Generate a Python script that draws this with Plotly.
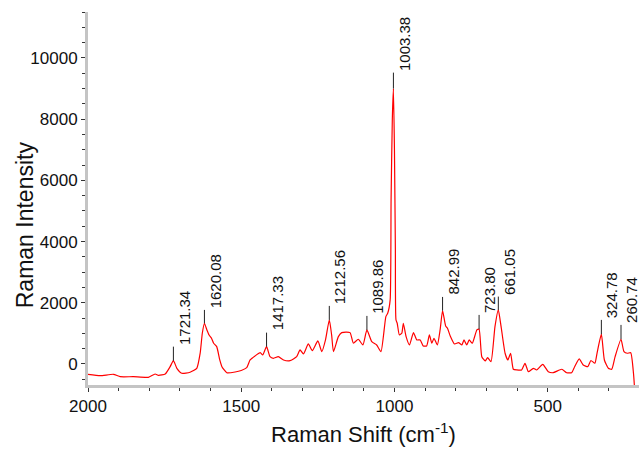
import plotly.graph_objects as go

# Spectrum: Raman shift (cm-1) and intensity
shift = [2000, 1960, 1917, 1895, 1852, 1803, 1781, 1770, 1748, 1732, 1721.34, 1710, 1694, 1667,
         1645, 1634, 1627, 1620.08, 1612, 1605, 1597, 1590, 1580, 1570, 1563, 1547, 1520, 1500,
         1482, 1471, 1455, 1438, 1430, 1417.33, 1406, 1395, 1379, 1362, 1341, 1319, 1308, 1297,
         1281, 1268, 1250, 1237, 1225, 1212.56, 1205, 1199, 1183, 1172, 1145, 1134, 1118, 1103,
         1089.86, 1074, 1058, 1044, 1028, 1022, 1014, 1011, 1007, 1003.38, 1000, 997, 995, 991,
         984, 976, 971, 962, 951, 938, 927, 916, 906, 895, 886, 878, 871, 860, 851, 842.99, 833,
         827, 818, 804, 791, 780, 773, 764, 756, 746, 731, 723.80, 715, 704, 696, 685, 672,
         661.05, 652, 639, 630, 621, 612, 601, 585, 574, 563, 547, 536, 516, 498, 482, 454, 438,
         422, 412, 397, 384, 369, 359, 346, 339, 324.78, 315, 302, 291, 280, 260.74, 251, 240,
         229, 220, 212]
intensity = [-337, -383, -337, -415, -415, -435, -327, -370, -327, -88, 108, -141, -304, -271,
             -141, 350, 1004, 1331, 1112, 949, 841, 677, 566, 131, -88, -285, -262, -213,
             -121, 131, 262, 370, 294, 566, 239, 186, 239, 131, 108, 239, 458, 327,
             654, 435, 752, 402, 785, 1440, 949, 402, 893, 1024, 1024, 677, 808, 621,
             1112, 729, 621, 402, 1547, 1658, 2093, 5360, 7980, 8996, 7000, 3730, 1440, 1331,
             949, 1004, 1331, 893, 621, 1024, 785, 785, 589, 589, 949, 677, 841, 621, 1112, 1744, 1243,
             1168, 916, 654, 697, 621, 785, 621, 785, 677, 1112, 1135, 239, 98, 206, 75, 1220,
             1766, 1220, 350, 131, 350, -173, -196, -196, 23, -252, -141, -196, -10, -252, -285, -173, -285,
             -285, -88, 164, -33, -88, 114, 23, 350, 972, 131, -141, -173, 239, 808, 402, 350,
             370, -304, -1500]

# Peak annotations
peak_labels = ["1721.34", "1620.08", "1417.33", "1212.56", "1089.86", "1003.38",
               "842.99", "723.80", "661.05", "324.78", "260.74"]
peak_pos = [1721.34, 1620.08, 1417.33, 1212.56, 1089.86, 1003.38,
            842.99, 723.80, 661.05, 324.78, 260.74]
peak_top = [108, 1331, 566, 1440, 1112, 8996, 1744, 1135, 1766, 972, 808]
marker_top = [566, 1766, 1024, 1897, 1570, 9519, 2190, 1603, 2202, 1440, 1276]

x_ticks = [2000, 1500, 1000, 500]
y_ticks = [0, 2000, 4000, 6000, 8000, 10000]

fig = go.Figure()
fig.add_trace(go.Scatter(x=shift, y=intensity, mode="lines",
                         line=dict(color="#ff0000", width=1.2, shape="spline", smoothing=0.5),
                         hoverinfo="skip", showlegend=False))

for lab, xp, y0, y1 in zip(peak_labels, peak_pos, peak_top, marker_top):
    fig.add_shape(type="line", x0=xp, x1=xp, y0=y0, y1=y1, xref="x", yref="y",
                  line=dict(color="#222222", width=1))
    fig.add_annotation(x=xp, y=y1, text=lab, textangle=-90, showarrow=False,
                       xanchor="center", yanchor="bottom", xshift=11, yshift=0,
                       font=dict(family="Liberation Sans, Arial", size=15, color="#111111"))

tick_font = dict(family="Liberation Sans Narrow, Arial Narrow, Liberation Sans", size=17, color="#111111")
title_font = dict(family="Liberation Sans, Arial", size=22, color="#111111")

# Y-axis title placed as an annotation for exact position
fig.add_annotation(text="Raman Intensity", textangle=-90, showarrow=False,
                   xref="paper", yref="paper", x=-0.115, y=0.43,
                   xanchor="center", yanchor="middle",
                   font=dict(family="Liberation Sans, Arial", size=23, color="#111111"))

fig.update_layout(
    width=639, height=452,
    margin=dict(l=88, r=0, t=12, b=67),
    plot_bgcolor="white", paper_bgcolor="white",
    xaxis=dict(range=[2000, 202], tickvals=x_ticks, ticktext=[str(v) for v in x_ticks],
               showgrid=False, zeroline=False, showline=True, linecolor="#c4c4c4", linewidth=3,
               ticks="outside", ticklen=4, tickcolor="#333333", tickwidth=1,
               minor=dict(dtick=100, ticks="outside", ticklen=3, tickcolor="#333333"),
               tickfont=tick_font,
               title=dict(text="Raman Shift (cm<sup>-1</sup>)", font=title_font, standoff=12)),
    yaxis=dict(range=[-687, 11500], tickvals=y_ticks, ticktext=[str(v) for v in y_ticks],
               showgrid=False, zeroline=False, showline=True, linecolor="#c4c4c4", linewidth=3,
               ticks="outside", ticklen=4, tickcolor="#333333", tickwidth=1,
               minor=dict(dtick=500, ticks="outside", ticklen=3, tickcolor="#333333"),
               tickfont=tick_font),
)

fig.write_html("out.html")
